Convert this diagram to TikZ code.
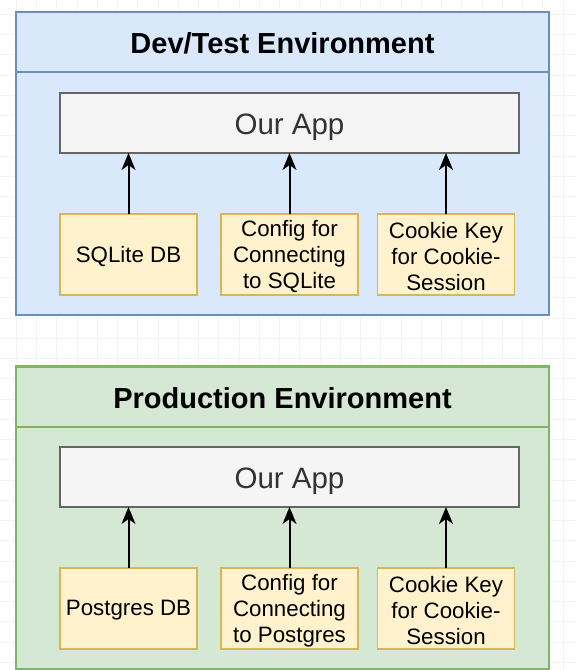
\documentclass[tikz,border=0pt]{standalone}
\usepackage{fontspec}
\setmainfont{Liberation Sans}
\usetikzlibrary{arrows.meta}
\definecolor{devfill}{HTML}{DAE8FC}
\definecolor{devline}{HTML}{6C8EBF}
\definecolor{prodfill}{HTML}{D5E8D4}
\definecolor{prodline}{HTML}{82B366}
\definecolor{cfgfill}{HTML}{FFF2CC}
\definecolor{cfgline}{HTML}{D6B656}
\definecolor{appfill}{HTML}{F5F5F5}
\definecolor{appline}{HTML}{666666}
\definecolor{apptext}{HTML}{333333}
\definecolor{gridc}{HTML}{F3F3F3}
\newcommand{\lowerby}[2]{\raisebox{-#1}[\height][\depth]{#2}}
\newcommand{\itemtext}[1]{\lowerby{2pt}{\parbox{137pt}{\centering #1}}}
\tikzset{
  envbox/.style={draw=#1, line width=1.5pt, inner sep=0pt, outer sep=0pt},
  titlebox/.style={draw=#1, line width=1.5pt, inner sep=0pt, outer sep=0pt,
    minimum width=533pt, minimum height=60pt,
    font=\fontsize{29}{34}\selectfont\bfseries},
  appbox/.style={draw=appline, fill=appfill, line width=1.5pt, inner sep=0pt, outer sep=0pt,
    minimum width=459pt, minimum height=60pt, text=apptext,
    font=\fontsize{29.5}{34}\selectfont},
  itembox/.style={draw=cfgline, fill=cfgfill, line width=1.5pt, inner sep=0pt, outer sep=0pt,
    minimum width=137pt, minimum height=81pt, align=center,
    font=\fontsize{22.3}{26}\selectfont},
  link/.style={line width=2pt, -{Stealth[length=17pt,width=14pt,inset=5pt]}}
}
\begin{document}
\begin{tikzpicture}[x=1pt,y=-1pt]
\useasboundingbox (0,0) rectangle (576,670);
\fill[white] (0,0) rectangle (576,670);
% faint canvas grid
\foreach \i in {0,...,28} {\draw[gridc, line width=0.6pt] (-4+\i*20.25,0) -- (-4+\i*20.25,670);}
\foreach \j in {0,...,33} {\draw[gridc, line width=0.6pt] (0,-6+\j*20.25) -- (576,-6+\j*20.25);}

% ---------- Dev/Test environment ----------
\node[envbox=devline, fill=devfill, minimum width=533pt, minimum height=303pt] (dev) at (282.5,163.5) {};
\node[titlebox=devline] (devtitle) at (282.5,42) {\lowerby{1pt}{Dev/Test Environment}};
\node[appbox] (devapp) at (289.5,123) {\lowerby{4pt}{Our App}};
\node[itembox] (devdb) at (128.5,254.5) {\itemtext{SQLite DB}};
\node[itembox] (devcfg) at (289.5,254.5) {\itemtext{Config for\\Connecting\\to SQLite}};
\node[itembox] (devkey) at (446,254.5) {\itemtext{Cookie Key\\for Cookie-\\Session}};
\draw[link] (devdb.north) -- (devdb.north |- devapp.south);
\draw[link] (devcfg.north) -- (devcfg.north |- devapp.south);
\draw[link] (devkey.north) -- (devkey.north |- devapp.south);

% ---------- Production environment ----------
\node[envbox=prodline, fill=prodfill, minimum width=533pt, minimum height=303pt] (prod) at (282.5,517.5) {};
\node[titlebox=prodline] (prodtitle) at (282.5,397) {\lowerby{1pt}{Production Environment}};
\node[appbox] (prodapp) at (289.5,477) {\lowerby{4pt}{Our App}};
\node[itembox] (proddb) at (128.5,608.5) {\itemtext{Postgres DB}};
\node[itembox] (prodcfg) at (289.5,608.5) {\itemtext{Config for\\Connecting\\to Postgres}};
\node[itembox] (prodkey) at (446,608.5) {\itemtext{Cookie Key\\for Cookie-\\Session}};
\draw[link] (proddb.north) -- (proddb.north |- prodapp.south);
\draw[link] (prodcfg.north) -- (prodcfg.north |- prodapp.south);
\draw[link] (prodkey.north) -- (prodkey.north |- prodapp.south);
\end{tikzpicture}
\end{document}
